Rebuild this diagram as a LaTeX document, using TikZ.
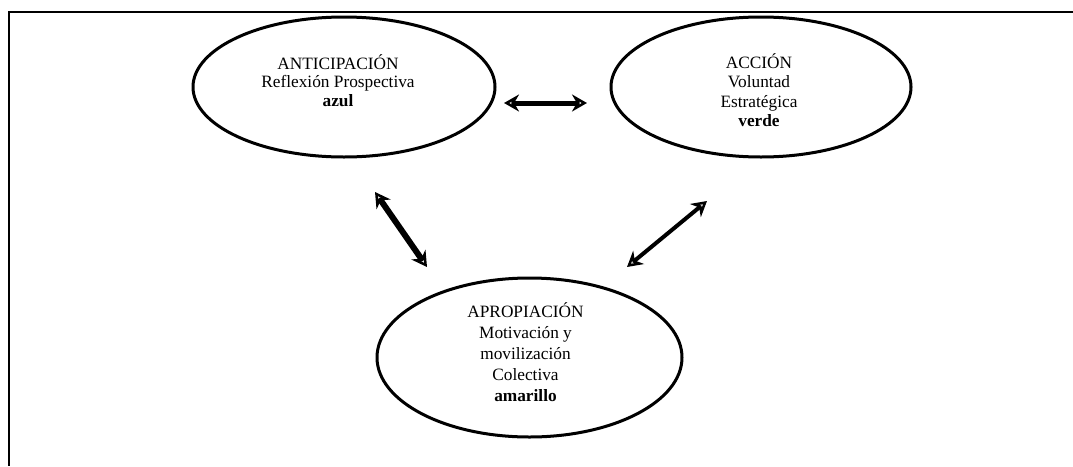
\documentclass[tikz,border=0pt]{standalone}
\usepackage{fontspec}
\setmainfont{Liberation Serif}
\usepackage{tikz}
\usetikzlibrary{positioning, shapes.geometric, arrows.meta}
\tikzstyle{oval} = [draw, ellipse, line width=3pt, inner sep=0pt]
\tikzstyle{ovaltext} = [align=center, font=\fontsize{17.3}{21}\selectfont]
\tikzstyle{link} = [<->]

\begin{document}
\begin{tikzpicture}[x=1pt, y=-1pt, >={Stealth[open, length=15pt, width=17pt]}]
	\useasboundingbox (0,0) rectangle (1073,466);
	\draw [line width=2.5pt] (1073,12) -- (9,12) -- (9,466);

	\node [oval, minimum width=302pt, minimum height=140pt] (ant) at (344,87) {};
	\node [oval, minimum width=300pt, minimum height=140pt, right=113pt of ant] (acc) {};
	\node [oval, minimum width=305pt, minimum height=159pt] (apr) at (529.5,357.5) {};

	\node [ovaltext, font=\fontsize{17.3}{18.5}\selectfont, yshift=6.5pt, xshift=-6pt] (antText) at (ant) {ANTICIPACIÓN\\Reflexión Prospectiva\\\textbf{azul}};
	\node [ovaltext, font=\fontsize{17.3}{19.5}\selectfont, yshift=-3pt, xshift=-2pt] (accText) at (acc) {ACCIÓN\\Voluntad\\Estratégica\\\textbf{verde}};
	\node [ovaltext, yshift=5pt, xshift=-4pt] (aprText) at (apr) {APROPIACIÓN\\Motivación y\\movilización\\Colectiva\\\textbf{amarillo}};

	\coordinate (antEnd) at (504,103);
	\coordinate (accEnd) at (587,103);
	\coordinate (antLow) at (375,192);
	\coordinate (aprLeft) at (427,267);
	\coordinate (aprRight) at (627,267);
	\coordinate (accLow) at (707,201);

	\draw [link, line width=5pt] (antEnd) -- (accEnd);
	\draw [link, line width=6pt] (antLow) -- (aprLeft);
	\draw [link, line width=4pt] (aprRight) -- (accLow);
\end{tikzpicture}
\end{document}
